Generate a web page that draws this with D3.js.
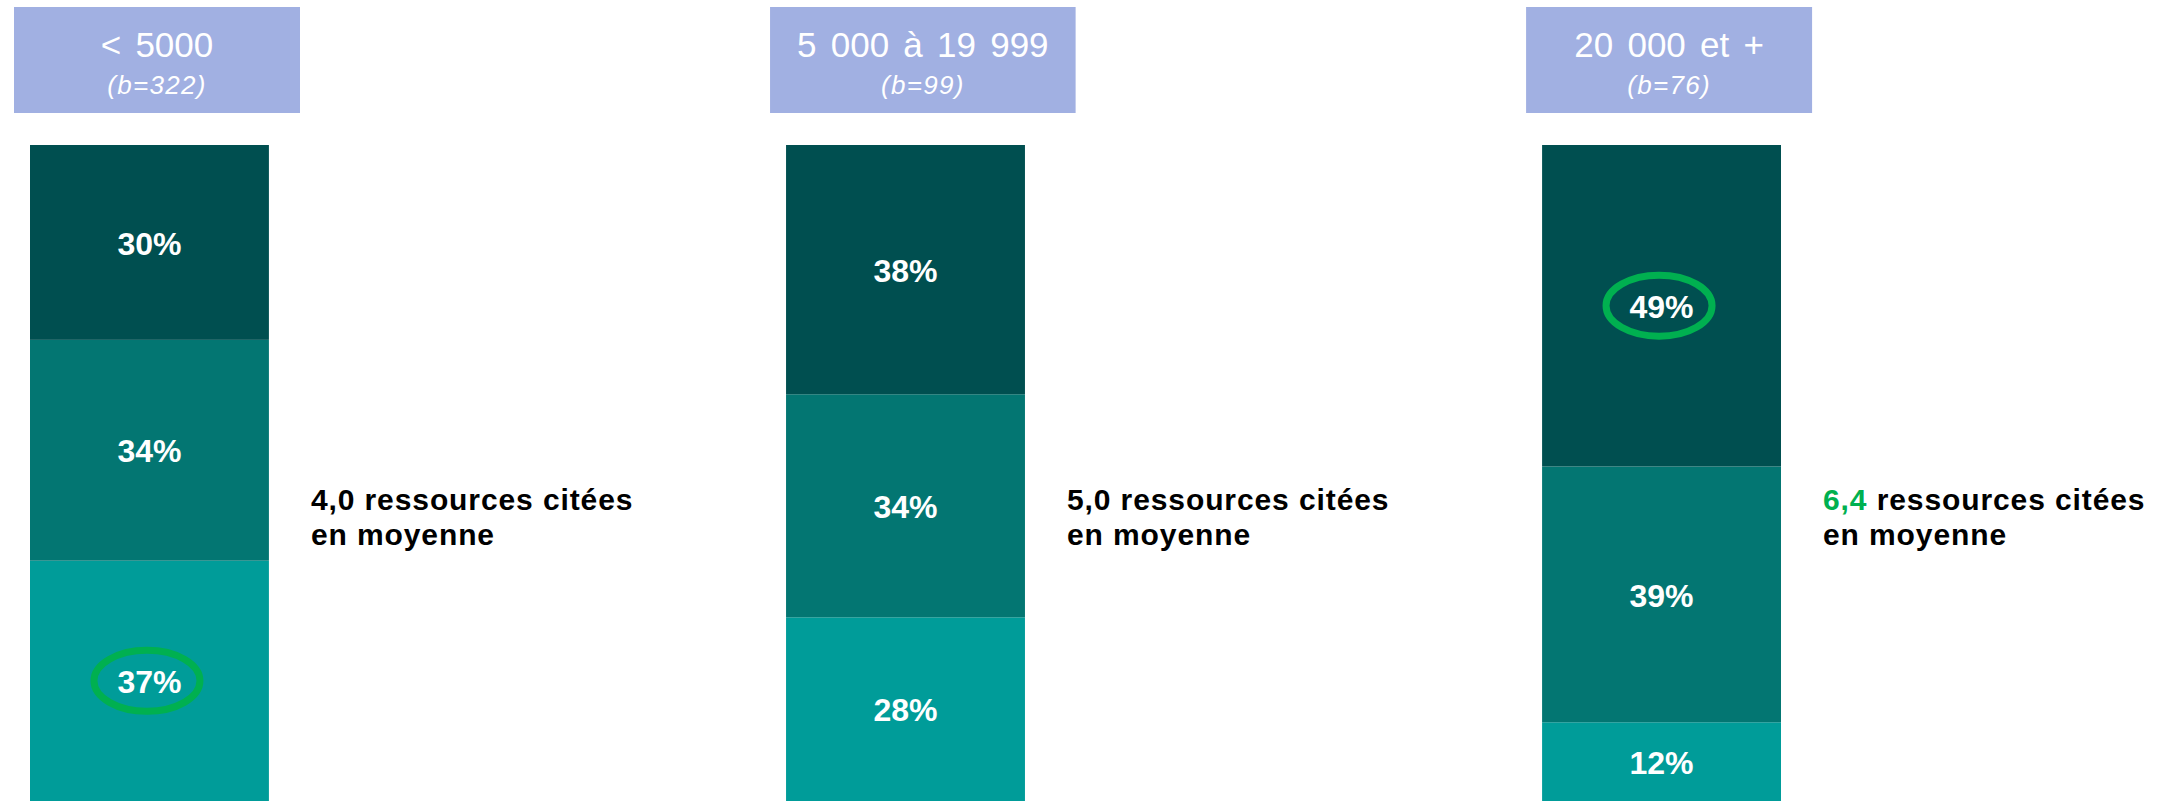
<!DOCTYPE html>
<html lang="fr">
<head>
<meta charset="utf-8">
<title>Ressources citées selon la taille de commune</title>
<script src="https://cdn.jsdelivr.net/npm/d3@7"></script>
<style>
  html, body { margin: 0; padding: 0; background: #ffffff; }
  svg { display: block; font-family: "Liberation Sans", Arial, Helvetica, sans-serif; }
</style>
</head>
<body>
<svg id="chart" width="2172" height="801"></svg>
<script>
// Tranches de population et effectifs
const categories = ["< 5000", "5 000 à 19 999", "20 000 et +"];
const effectifs = [322, 99, 76];

// Parts (%) par niveau, du bas vers le haut de chaque colonne
const partBas    = [37, 28, 12];
const partMilieu = [34, 34, 39];
const partHaut   = [30, 38, 49];

// Nombre moyen de ressources citées
const moyennes = [4.0, 5.0, 6.4];

// Valeurs mises en avant (cercle vert)
const misesEnAvant = [
  { categorie: "< 5000", niveau: "bas" },
  { categorie: "20 000 et +", niveau: "haut" }
];
const moyenneMiseEnAvant = "20 000 et +";

const niveaux = ["bas", "milieu", "haut"];
const couleurs = { bas: "#009c99", milieu: "#037672", haut: "#004f50" };
const vert = "#00b050";

const rows = categories.map((c, i) => ({
  categorie: c, bas: partBas[i], milieu: partMilieu[i], haut: partHaut[i]
}));

const svg = d3.select("#chart");

const x = d3.scaleBand()
  .domain(categories)
  .range([30, 1781])
  .paddingInner(0.684)
  .paddingOuter(0);

// Chaque colonne est ramenée à 100 %
const y = d3.scaleLinear().domain([0, 1]).range([801, 145]);

const stack = d3.stack().keys(niveaux).offset(d3.stackOffsetExpand);
const series = stack(rows);

const fmtPct = d => d + "%";
const fmtMoy = d3.formatLocale({ decimal: ",", thousands: " ", grouping: [3] }).format(".1f");

// En-têtes
const head = svg.append("g").attr("class", "entetes")
  .selectAll("g").data(categories).join("g");

head.each(function (c, i) {
  const g = d3.select(this);
  const rect = g.append("rect").attr("fill", "#a1b0e2");
  const t1 = g.append("text")
    .attr("text-anchor", "middle")
    .attr("fill", "#ffffff")
    .attr("font-size", 35)
    .attr("y", 57)
    .text(c);
  const w = Math.max(286, t1.node().getComputedTextLength() + 72);
  t1.attr("word-spacing", 4.5);
  const t2 = g.append("text")
    .attr("text-anchor", "middle")
    .attr("fill", "#ffffff")
    .attr("font-size", 26)
    .attr("letter-spacing", 1.3)
    .attr("font-style", "italic")
    .attr("y", 94)
    .text("(b=" + effectifs[i] + ")");
  const left = x(c) - 16;
  rect.attr("x", left).attr("y", 7).attr("width", w).attr("height", 106);
  t1.attr("x", left + w / 2);
  t2.attr("x", left + w / 2);
});

// Colonnes empilées
const layers = svg.append("g").attr("class", "colonnes")
  .selectAll("g").data(series).join("g")
  .attr("fill", s => couleurs[s.key]);

layers.selectAll("rect")
  .data(s => s.map(d => ({ d, key: s.key })))
  .join("rect")
  .attr("x", o => x(o.d.data.categorie))
  .attr("width", x.bandwidth())
  .attr("y", o => y(o.d[1]))
  .attr("height", o => y(o.d[0]) - y(o.d[1]));

// Étiquettes de valeurs
const labels = svg.append("g").attr("class", "valeurs");
series.forEach(s => {
  s.forEach(d => {
    const cx = x(d.data.categorie) + x.bandwidth() / 2;
    const cy = (y(d[0]) + y(d[1])) / 2;
    const hl = misesEnAvant.some(m => m.categorie === d.data.categorie && m.niveau === s.key);
    if (hl) {
      labels.append("ellipse")
        .attr("cx", cx - 2.5)
        .attr("cy", cy)
        .attr("rx", 53)
        .attr("ry", 30.5)
        .attr("fill", "none")
        .attr("stroke", vert)
        .attr("stroke-width", 7);
    }
    labels.append("text")
      .attr("x", cx)
      .attr("y", cy)
      .attr("dy", "0.38em")
      .attr("text-anchor", "middle")
      .attr("fill", "#ffffff")
      .attr("font-weight", "bold")
      .attr("font-size", 32)
      .text(fmtPct(d.data[s.key]));
  });
});

// Moyennes
const notes = svg.append("g").attr("class", "moyennes")
  .selectAll("text").data(categories).join("text")
  .attr("x", c => x(c) + x.bandwidth() + 42)
  .attr("y", 510)
  .attr("font-size", 30)
  .attr("letter-spacing", 0.9)
  .attr("font-weight", "bold")
  .attr("fill", "#000000");

notes.each(function (c, i) {
  const t = d3.select(this);
  t.append("tspan")
    .attr("fill", c === moyenneMiseEnAvant ? vert : "#000000")
    .text(fmtMoy(moyennes[i]));
  t.append("tspan").text(" ressources citées");
  t.append("tspan")
    .attr("x", x(c) + x.bandwidth() + 42)
    .attr("dy", 35)
    .text("en moyenne");
});
</script>
</body>
</html>
